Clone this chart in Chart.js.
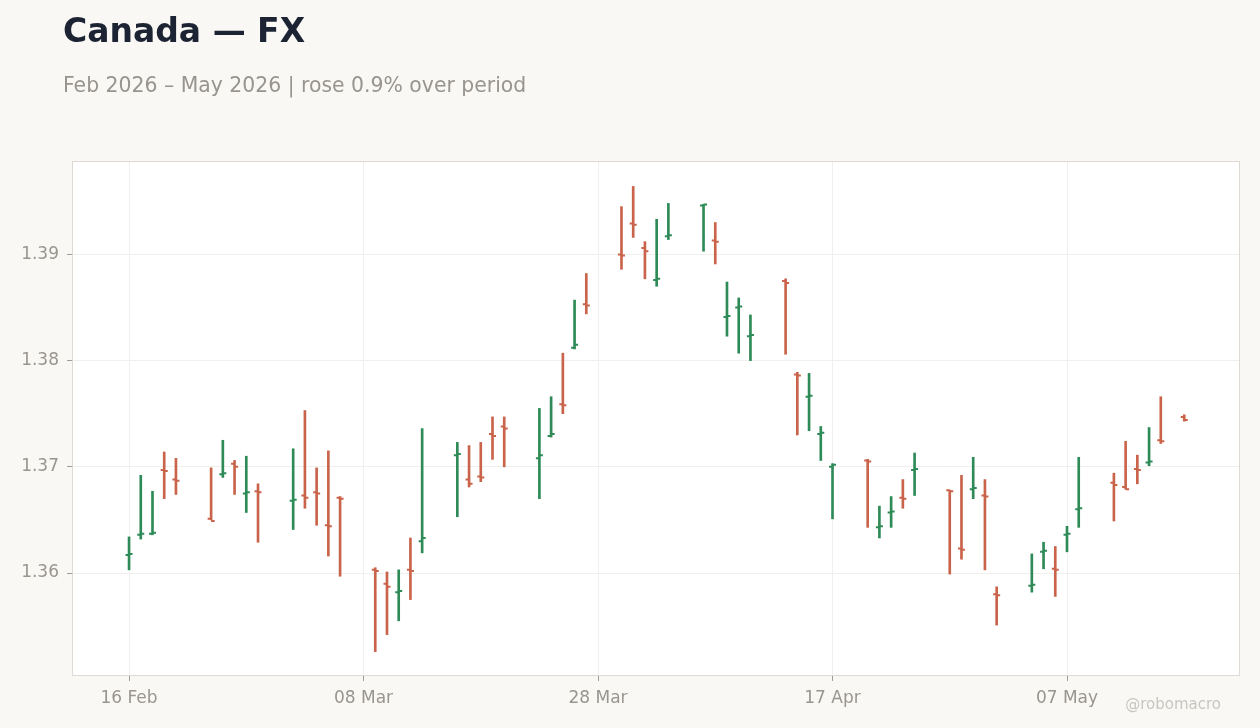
<!DOCTYPE html>
<html>
<head>
<meta charset="utf-8">
<script src="https://cdn.jsdelivr.net/npm/chart.js@4/dist/chart.umd.min.js"></script>
<style>
  html, body { margin: 0; padding: 0; background: #f9f8f5; }
  #wrap { position: relative; width: 1260px; height: 728px; overflow: hidden; }
  #title { position: absolute; left: 63px; top: 14px; font: bold 33px/1 'DejaVu Sans', sans-serif; color: #1c2333; white-space: nowrap; }
  #subtitle { position: absolute; left: 63px; top: 75px; font: 20.4px/1 'DejaVu Sans', sans-serif; color: #98948f; white-space: nowrap; }
  #mark { position: absolute; right: 39px; top: 697px; font: 15px/1 'DejaVu Sans', sans-serif; color: #c9c6c1; }
  canvas { position: absolute; left: 0; top: 0; }
</style>
</head>
<body>
<div id="wrap">
  <canvas id="fx" width="1260" height="728"></canvas>
  <div id="title">Canada — FX</div>
  <div id="subtitle">Feb 2026 – May 2026 | rose 0.9% over period</div>
  <div id="mark">@robomacro</div>
</div>
<script>
(function() {
    // daily USD/CAD bars
    const dates = [
        '2026-02-16', '2026-02-17', '2026-02-18', '2026-02-19', '2026-02-20',
        '2026-02-23', '2026-02-24', '2026-02-25', '2026-02-26', '2026-02-27',
        '2026-03-02', '2026-03-03', '2026-03-04', '2026-03-05', '2026-03-06',
        '2026-03-09', '2026-03-10', '2026-03-11', '2026-03-12', '2026-03-13',
        '2026-03-16', '2026-03-17', '2026-03-18', '2026-03-19', '2026-03-20',
        '2026-03-23', '2026-03-24', '2026-03-25', '2026-03-26', '2026-03-27',
        '2026-03-30', '2026-03-31', '2026-04-01', '2026-04-02', '2026-04-03',
        '2026-04-06', '2026-04-07', '2026-04-08', '2026-04-09', '2026-04-10',
        '2026-04-13', '2026-04-14', '2026-04-15', '2026-04-16', '2026-04-17',
        '2026-04-20', '2026-04-21', '2026-04-22', '2026-04-23', '2026-04-24',
        '2026-04-27', '2026-04-28', '2026-04-29', '2026-04-30', '2026-05-01',
        '2026-05-04', '2026-05-05', '2026-05-06', '2026-05-07', '2026-05-08',
        '2026-05-11', '2026-05-12', '2026-05-13', '2026-05-14', '2026-05-15',
        '2026-05-17'
    ];
    const opens = [
        1.3617, 1.3636, 1.3637, 1.3697, 1.3688,
        1.3651, 1.3693, 1.3703, 1.3675, 1.3677,
        1.3668, 1.3673, 1.3676, 1.3645, 1.3671,
        1.3603, 1.3590, 1.3582, 1.3603, 1.3630,
        1.3711, 1.3688, 1.3691, 1.3731, 1.3738,
        1.3708, 1.3729, 1.3759, 1.3812, 1.3853,
        1.3900, 1.3929, 1.3906, 1.3876, 1.3917,
        1.3946, 1.3913, 1.3841, 1.3850, 1.3823,
        1.3875, 1.3787, 1.3766, 1.3731, 1.3700,
        1.3706, 1.3643, 1.3657, 1.3671, 1.3697,
        1.3678, 1.3623, 1.3679, 1.3673, 1.3580,
        1.3588, 1.3620, 1.3604, 1.3636, 1.3660,
        1.3685, 1.3681, 1.3698, 1.3704, 1.3725,
        1.3747
    ];
    const highs = [
        1.3634, 1.3692, 1.3677, 1.3714, 1.3708,
        1.3699, 1.3725, 1.3706, 1.3710, 1.3684,
        1.3717, 1.3753, 1.3699, 1.3715, 1.3672,
        1.3605, 1.3601, 1.3603, 1.3633, 1.3736,
        1.3723, 1.3720, 1.3723, 1.3747, 1.3747,
        1.3755, 1.3766, 1.3807, 1.3857, 1.3882,
        1.3945, 1.3964, 1.3912, 1.3933, 1.3948,
        1.3947, 1.3930, 1.3874, 1.3859, 1.3843,
        1.3877, 1.3789, 1.3788, 1.3738, 1.3703,
        1.3707, 1.3663, 1.3672, 1.3688, 1.3713,
        1.3678, 1.3692, 1.3709, 1.3688, 1.3587,
        1.3618, 1.3629, 1.3625, 1.3644, 1.3709,
        1.3694, 1.3724, 1.3711, 1.3737, 1.3766,
        1.3749
    ];
    const lows = [
        1.3603, 1.3632, 1.3636, 1.3670, 1.3674,
        1.3650, 1.3690, 1.3674, 1.3657, 1.3629,
        1.3641, 1.3661, 1.3645, 1.3616, 1.3597,
        1.3526, 1.3542, 1.3555, 1.3575, 1.3619,
        1.3653, 1.3681, 1.3686, 1.3707, 1.3700,
        1.3670, 1.3728, 1.3750, 1.3811, 1.3844,
        1.3886, 1.3916, 1.3877, 1.3870, 1.3914,
        1.3903, 1.3891, 1.3823, 1.3807, 1.3800,
        1.3806, 1.3730, 1.3734, 1.3706, 1.3651,
        1.3643, 1.3633, 1.3643, 1.3661, 1.3673,
        1.3599, 1.3613, 1.3670, 1.3603, 1.3551,
        1.3582, 1.3604, 1.3578, 1.3620, 1.3643,
        1.3649, 1.3679, 1.3684, 1.3701, 1.3722,
        1.3743
    ];
    const closes = [
        1.3618, 1.3637, 1.3638, 1.3696, 1.3687,
        1.3649, 1.3694, 1.3700, 1.3676, 1.3676,
        1.3669, 1.3671, 1.3675, 1.3644, 1.3670,
        1.3602, 1.3587, 1.3583, 1.3602, 1.3633,
        1.3712, 1.3684, 1.3690, 1.3729, 1.3736,
        1.3711, 1.3731, 1.3758, 1.3815, 1.3852,
        1.3899, 1.3928, 1.3903, 1.3877, 1.3918,
        1.3947, 1.3912, 1.3842, 1.3851, 1.3824,
        1.3873, 1.3786, 1.3767, 1.3732, 1.3702,
        1.3705, 1.3644, 1.3658, 1.3670, 1.3698,
        1.3677, 1.3622, 1.3680, 1.3672, 1.3579,
        1.3589, 1.3621, 1.3603, 1.3637, 1.3661,
        1.3683, 1.3679, 1.3697, 1.3705, 1.3724,
        1.3744
    ];
    const yTicks = [1.36, 1.37, 1.38, 1.39];
    const xTickDates = ['2026-02-16', '2026-03-08', '2026-03-28', '2026-04-17', '2026-05-07'];

    const UP = '#2e8b57';
    const DOWN = '#c9634a';
    const MONTHS = ['Jan', 'Feb', 'Mar', 'Apr', 'May', 'Jun', 'Jul', 'Aug', 'Sep', 'Oct', 'Nov', 'Dec'];
    const DAY = 86400000;
    const t0 = Date.parse(dates[0] + 'T00:00:00Z');
    const toDay = s => (Date.parse(s + 'T00:00:00Z') - t0) / DAY;
    const dayLabel = v => {
        const d = new Date(t0 + Math.round(v) * DAY);
        return String(d.getUTCDate()).padStart(2, '0') + ' ' + MONTHS[d.getUTCMonth()];
    };

    const days = dates.map(toDay);
    const colors = closes.map((c, i) => c >= opens[i] ? UP : DOWN);

    // open tick to the left, close tick to the right
    const ohlcTicks = {
        id: 'ohlcTicks',
        afterDatasetsDraw(chart) {
            const { ctx, scales: { x, y } } = chart;
            ctx.save();
            ctx.lineWidth = 2;
            days.forEach((d, i) => {
                const px = x.getPixelForValue(d);
                const yo = y.getPixelForValue(opens[i]);
                const yc = y.getPixelForValue(closes[i]);
                ctx.strokeStyle = colors[i];
                ctx.beginPath();
                ctx.moveTo(px - 3.5, yo);
                ctx.lineTo(px, yo);
                ctx.moveTo(px, yc);
                ctx.lineTo(px + 3.5, yc);
                ctx.stroke();
            });
            ctx.restore();
        }
    };

    const panel = {
        id: 'panel',
        beforeDraw(chart) {
            const { ctx, chartArea: a } = chart;
            ctx.save();
            ctx.fillStyle = '#ffffff';
            ctx.fillRect(a.left, a.top, a.right - a.left, a.bottom - a.top);
            ctx.restore();
        },
        afterDraw(chart) {
            const { ctx, chartArea: a } = chart;
            ctx.save();
            ctx.strokeStyle = '#dedad3';
            ctx.lineWidth = 1;
            ctx.strokeRect(a.left - 0.5, a.top - 0.5, a.right - a.left + 1, a.bottom - a.top + 1);
            ctx.restore();
        }
    };

    Chart.defaults.font.family = "'DejaVu Sans', sans-serif";
    Chart.defaults.font.size = 17;
    Chart.defaults.color = '#99958f';

    new Chart(document.getElementById('fx'), {
        type: 'bar',
        data: {
            datasets: [{
                label: 'USD/CAD',
                data: days.map((d, i) => ({ x: d, y: [lows[i], highs[i]] })),
                backgroundColor: colors,
                borderWidth: 0,
                barThickness: 2
            }]
        },
        plugins: [panel, ohlcTicks],
        options: {
            responsive: false,
            animation: false,
            layout: { padding: { top: 162, right: 21, bottom: 0, left: 0 } },
            plugins: {
                legend: { display: false },
                tooltip: { enabled: false }
            },
            scales: {
                x: {
                    type: 'linear',
                    offset: false,
                    min: -4.78,
                    max: 94.67,
                    afterFit: s => { s.height = 53; },
                    afterBuildTicks: s => { s.ticks = xTickDates.map(t => ({ value: toDay(t) })); },
                    grid: { offset: false, color: '#efefed', tickColor: '#a09c96', tickLength: 6 },
                    border: { display: false },
                    ticks: { padding: 7, maxRotation: 0, callback: v => dayLabel(v) }
                },
                y: {
                    min: 1.3504,
                    max: 1.3987,
                    afterFit: s => { s.width = 73; },
                    afterBuildTicks: s => { s.ticks = yTicks.map(v => ({ value: v })); },
                    grid: { color: '#efefed', tickColor: '#a09c96', tickLength: 6 },
                    border: { display: false },
                    ticks: { padding: 8, callback: v => v.toFixed(2) }
                }
            }
        }
    });
})();
</script>
</body>
</html>
